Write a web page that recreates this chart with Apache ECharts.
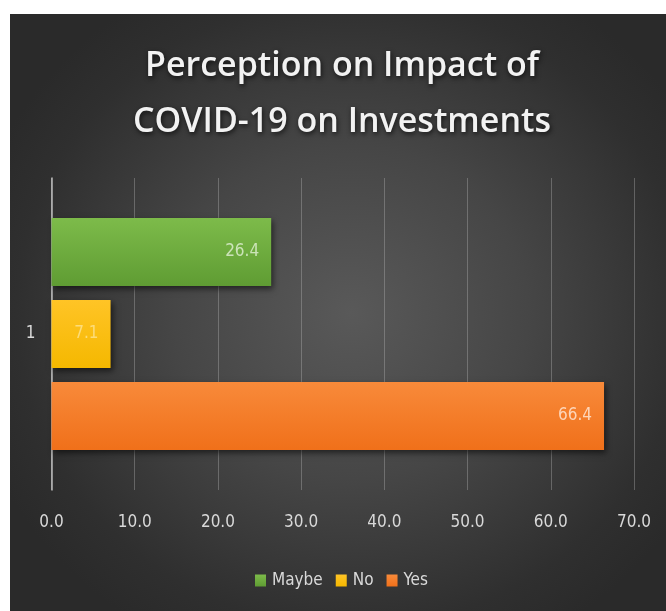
<!DOCTYPE html>
<html>
<head>
<meta charset="utf-8">
<script src="https://cdn.jsdelivr.net/npm/echarts@6/dist/echarts.min.js"></script>
<style>
  html, body { margin: 0; padding: 0; background: #ffffff; }
  #panel {
    position: absolute; left: 10px; top: 14px; width: 656px; height: 597px;
    background: radial-gradient(ellipse 60% 62% at 52% 50%, #595959 0%, #464646 45%, #2f2f2f 85%, #2a2a2a 100%);
  }
  #chart { position: absolute; left: 0; top: 0; width: 666px; height: 611px; }
</style>
</head>
<body>
<div id="panel"></div>
<div id="chart"></div>
<script>
// Survey responses (percent of respondents)
const categories = ['1'];
const seriesNames = ['Maybe', 'No', 'Yes'];
const maybeValues = [26.4];
const noValues = [7.1];
const yesValues = [66.4];
const tickMin = 0, tickMax = 70, tickStep = 10;

const chart = echarts.init(document.getElementById('chart'), null, { renderer: 'canvas' });

const narrow = '"DejaVu Sans Condensed", "Liberation Sans Narrow", sans-serif';

function grad(top, bottom) {
  return new echarts.graphic.LinearGradient(0, 0, 0, 1, [
    { offset: 0, color: top }, { offset: 1, color: bottom }
  ]);
}

const styles = {
  Maybe: { fill: grad('#7dbb4a', '#5f9c33'), legend: '#6fb23f', label: 'rgba(235,245,225,0.75)' },
  No: { fill: grad('#ffc426', '#f5b800'), legend: '#ffc000', label: 'rgba(255,250,220,0.5)' },
  Yes: { fill: grad('#f88a3a', '#f0701a'), legend: '#f47b28', label: 'rgba(255,235,220,0.8)' }
};

function makeSeries(name, values) {
  const st = styles[name];
  return {
    name: name,
    type: 'bar',
    data: values,
    barWidth: 68,
    barGap: '20.6%',
    itemStyle: {
      color: st.fill,
      shadowColor: 'rgba(0,0,0,0.55)',
      shadowBlur: 6,
      shadowOffsetX: 2,
      shadowOffsetY: 3
    },
    label: {
      show: true,
      position: 'insideRight',
      distance: 12,
      color: st.label,
      fontFamily: narrow,
      fontSize: 17,
      formatter: function (p) { return p.value.toFixed(1); }
    }
  };
}

chart.setOption({
  backgroundColor: 'transparent',
  animation: false,
  color: [styles.Maybe.legend, styles.No.legend, styles.Yes.legend],
  title: {
    text: 'Perception on Impact of\nCOVID-19 on Investments',
    left: 337,
    textAlign: 'center',
    top: 33,
    textStyle: {
      color: '#f2f2f2',
      fontFamily: '"Open Sans", "Noto Sans", sans-serif',
      fontWeight: 600,
      fontSize: 34,
      lineHeight: 56,
      textShadowColor: 'rgba(0,0,0,0.7)',
      textShadowBlur: 5,
      textShadowOffsetX: 1,
      textShadowOffsetY: 2
    }
  },
  legend: {
    data: seriesNames,
    left: 250,
    top: 567,
    itemWidth: 11,
    itemHeight: 12,
    itemGap: 13,
    icon: 'rect',
    textStyle: { color: '#d9d9d9', fontFamily: narrow, fontSize: 17, padding: [0, 0, 0, 1] }
  },
  grid: { left: 51.5, right: 32, top: 178, bottom: 121, containLabel: false },
  xAxis: {
    type: 'value',
    min: tickMin,
    max: tickMax,
    interval: tickStep,
    axisLine: { show: false },
    axisTick: { show: false },
    splitLine: { show: true, lineStyle: { color: 'rgba(190,190,190,0.35)', width: 1 } },
    axisLabel: {
      color: '#d9d9d9',
      fontFamily: narrow,
      fontSize: 17,
      margin: 24,
      formatter: function (v) { return v.toFixed(1); }
    }
  },
  yAxis: {
    type: 'category',
    data: categories,
    inverse: true,
    axisLine: { show: true, lineStyle: { color: 'rgba(220,220,220,0.8)', width: 1.5 } },
    axisTick: { show: false },
    axisLabel: { color: '#d9d9d9', fontFamily: narrow, fontSize: 17, margin: 16 }
  },
  series: [
    makeSeries('Maybe', maybeValues),
    makeSeries('No', noValues),
    makeSeries('Yes', yesValues)
  ]
});
</script>
</body>
</html>
